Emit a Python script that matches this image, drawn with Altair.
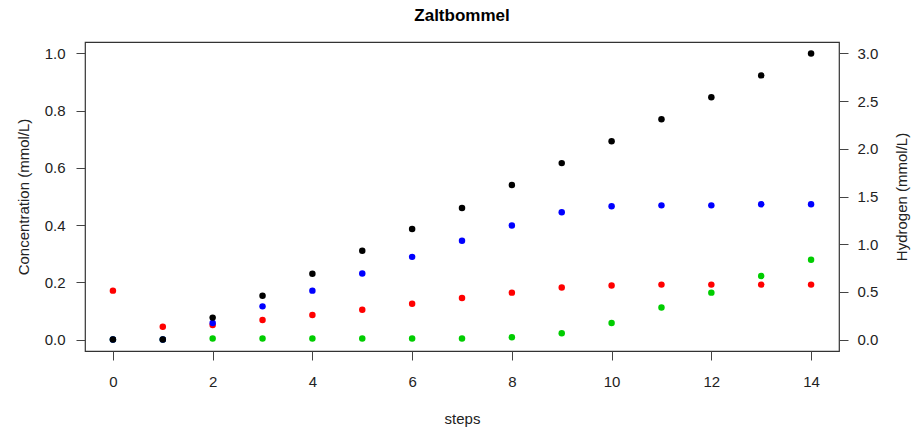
import altair as alt
import pandas as pd

steps = list(range(15))

# Concentrations on the left axis (mmol/L)
red_vals = [0.171, 0.045, 0.051, 0.068, 0.086, 0.104, 0.125, 0.145, 0.164,
            0.182, 0.189, 0.192, 0.192, 0.192, 0.192]
blue_vals = [0.0, 0.0, 0.058, 0.116, 0.171, 0.231, 0.289, 0.345, 0.399,
             0.445, 0.466, 0.469, 0.469, 0.473, 0.473]
green_vals = [0.0, 0.0, 0.004, 0.004, 0.004, 0.004, 0.004, 0.004, 0.008,
              0.022, 0.058, 0.112, 0.164, 0.222, 0.279]
# Hydrogen on the right axis (mmol/L)
hydrogen_vals = [0.0, 0.0, 0.23, 0.46, 0.69, 0.93, 1.16, 1.38, 1.62,
                 1.85, 2.08, 2.31, 2.54, 2.77, 3.0]

x_ticks = [0, 2, 4, 6, 8, 10, 12, 14]
left_ticks = [0.0, 0.2, 0.4, 0.6, 0.8, 1.0]
right_ticks = [0.0, 0.5, 1.0, 1.5, 2.0, 2.5, 3.0]

conc = pd.DataFrame({
    "step": steps * 3,
    "value": green_vals + red_vals + blue_vals,
    "series": ["green"] * 15 + ["red"] * 15 + ["blue"] * 15,
    "order": [0] * 15 + [1] * 15 + [2] * 15,
})
hyd = pd.DataFrame({"step": steps, "value": hydrogen_vals})

FONT = "Liberation Sans"
TXT = "#222222"
FS = 15

common_axis = dict(grid=False, domain=False, tickSize=9, tickColor="#444444",
                   labelFontSize=FS, titleFontSize=FS, labelColor=TXT,
                   titleColor=TXT, titleFontWeight="normal", labelFont=FONT,
                   titleFont=FONT)

x_enc = alt.X(
    "step:Q",
    scale=alt.Scale(domain=[-0.56, 14.56], nice=False, zero=False),
    axis=alt.Axis(values=x_ticks, format="d", title="steps",
                  labelPadding=14, titlePadding=22, **common_axis),
)

left = alt.Chart(conc).mark_point(filled=True, size=42, opacity=1).encode(
    x=x_enc,
    y=alt.Y(
        "value:Q",
        scale=alt.Scale(domain=[-0.04, 1.04], nice=False, zero=False),
        axis=alt.Axis(values=left_ticks, format=".1f",
                      title="Concentration (mmol/L)", labelPadding=11,
                      titlePadding=13, **common_axis),
    ),
    color=alt.Color("series:N",
                    scale=alt.Scale(domain=["green", "red", "blue"],
                                    range=["#00CD00", "#FF0000", "#0000FF"]),
                    legend=None),
    order=alt.Order("order:Q"),
)

right = alt.Chart(hyd).mark_point(filled=True, size=42, opacity=1,
                                  color="black").encode(
    x=x_enc,
    y=alt.Y(
        "value:Q",
        scale=alt.Scale(domain=[-0.12, 3.12], nice=False, zero=False),
        axis=alt.Axis(orient="right", values=right_ticks, format=".1f",
                      title="Hydrogen (mmol/L)", titleAngle=270,
                      labelPadding=9, titlePadding=32, **common_axis),
    ),
)

chart = alt.layer(left, right).resolve_scale(y="independent").properties(
    width=754,
    height=309,
    title=alt.TitleParams(text="Zaltbommel", frame="group", anchor="middle",
                          font=FONT, fontSize=17, fontWeight="bold",
                          color="black", offset=17),
    autosize=alt.AutoSizeParams(type="none"),
    padding={"left": 85, "top": 42, "right": 76, "bottom": 77},
).configure(background="white").configure_view(stroke="#333333", strokeWidth=1.2)

chart.save("out.html", embed_options={"renderer": "svg", "actions": False})
